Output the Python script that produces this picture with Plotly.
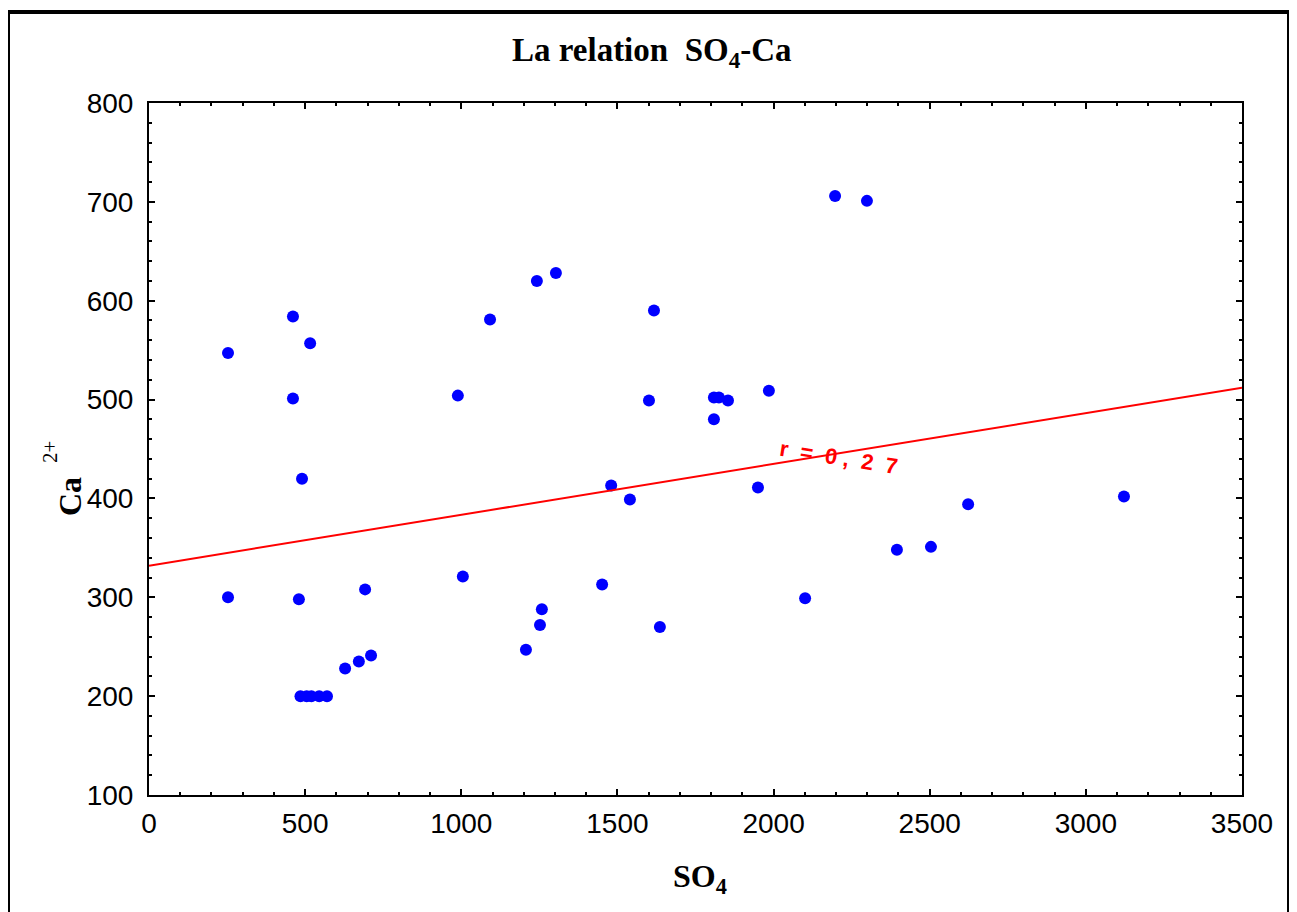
import plotly.graph_objects as go

# Data
so4 = [253, 253, 461, 461, 516, 490, 480, 692,
       485, 505, 520, 545, 570,
       628, 672, 711, 989, 1005, 1092, 1242, 1303, 1207, 1252, 1258,
       1451, 1480, 1540, 1601, 1617, 1636, 1809, 1809, 1825, 1854,
       1950, 1985, 2101, 2197, 2299, 2395, 2504, 2623, 3122]
ca = [547, 300, 584, 501, 557, 420, 298, 308,
      200, 200, 200, 200, 200,
      228, 235, 241, 504, 321, 581, 620, 628, 247, 272, 288,
      313, 413, 399, 499, 590, 270, 480, 502, 502, 499,
      411, 509, 299, 706, 701, 348, 351, 394, 402]

fit_x = [0, 3500]
fit_y = [332, 512]

x_ticks = [0, 500, 1000, 1500, 2000, 2500, 3000, 3500]
y_ticks = [100, 200, 300, 400, 500, 600, 700, 800]

fig = go.Figure()
fig.add_trace(go.Scatter(x=so4, y=ca, mode="markers",
                         marker=dict(color="#0000FF", size=12, line=dict(width=0)),
                         showlegend=False))
fig.add_trace(go.Scatter(x=fit_x, y=fit_y, mode="lines",
                         line=dict(color="#FF0000", width=2), showlegend=False))

serif = "Liberation Serif"
sans = "Liberation Sans"

axis_common = dict(showline=True, linecolor="black", linewidth=2, mirror="ticks",
                   ticks="inside", ticklen=6, tickwidth=2, tickcolor="black",
                   showgrid=False, zeroline=False,
                   tickfont=dict(family=sans, size=28, color="black"))

fig.update_xaxes(range=[0, 3500], tickvals=x_ticks, ticklabelstandoff=2,
                 minor=dict(dtick=100, ticks="inside", ticklen=3, tickwidth=2, tickcolor="black"),
                 **axis_common)
fig.update_yaxes(range=[100, 800], tickvals=y_ticks, ticklabelstandoff=8,
                 minor=dict(dtick=20, ticks="inside", ticklen=3, tickwidth=2, tickcolor="black"),
                 **axis_common)

# page body has an 8px offset; plot area targeted at screen x 149..1242, y 103..795
L, T, PW, PH = 141, 95, 1093, 692
fig.update_layout(
    width=1297, height=912,
    margin=dict(l=L, r=1297 - L - PW, t=T, b=912 - T - PH),
    paper_bgcolor="white", plot_bgcolor="white",
    shapes=[dict(type="rect", xref="paper", yref="paper",
                 x0=(8 - 149) / PW, x1=(1289 - 149) / PW, y0=-0.2, y1=(795 - 12) / PH,
                 line=dict(color="black", width=4))],
    annotations=[
        dict(text="<b>La relation  SO<sub>4</sub>-Ca</b>", xref="paper", yref="paper",
             x=(652 - 149) / PW, y=(795 - 53) / PH, showarrow=False,
             font=dict(family=serif, size=33, color="black"), xanchor="center", yanchor="middle"),
        dict(text="<b>SO<sub>4</sub></b>", xref="paper", yref="paper",
             x=(700 - 149) / PW, y=(795 - 878) / PH, showarrow=False,
             font=dict(family=serif, size=32, color="black"), xanchor="center", yanchor="middle"),
        dict(text="<b>Ca</b>", xref="paper", yref="paper",
             x=(70 - 149) / PW, y=(795 - 497) / PH, showarrow=False, textangle=-90,
             font=dict(family=serif, size=32, color="black"), xanchor="center", yanchor="middle"),
        dict(text="2+", xref="paper", yref="paper",
             x=(50 - 149) / PW, y=(795 - 452) / PH, showarrow=False, textangle=-90,
             font=dict(family=serif, size=21, color="black"), xanchor="center", yanchor="middle"),
        dict(text="<b>r\u00a0\u00a0=\u00a0\u00a00\u00a0,\u00a0\u00a02\u00a0\u00a07</b>",
             x=2209, y=441, showarrow=False, textangle=9,
             font=dict(family=sans, size=22, color="#FF0000")),
    ],
)

fig.write_html("out.html")
